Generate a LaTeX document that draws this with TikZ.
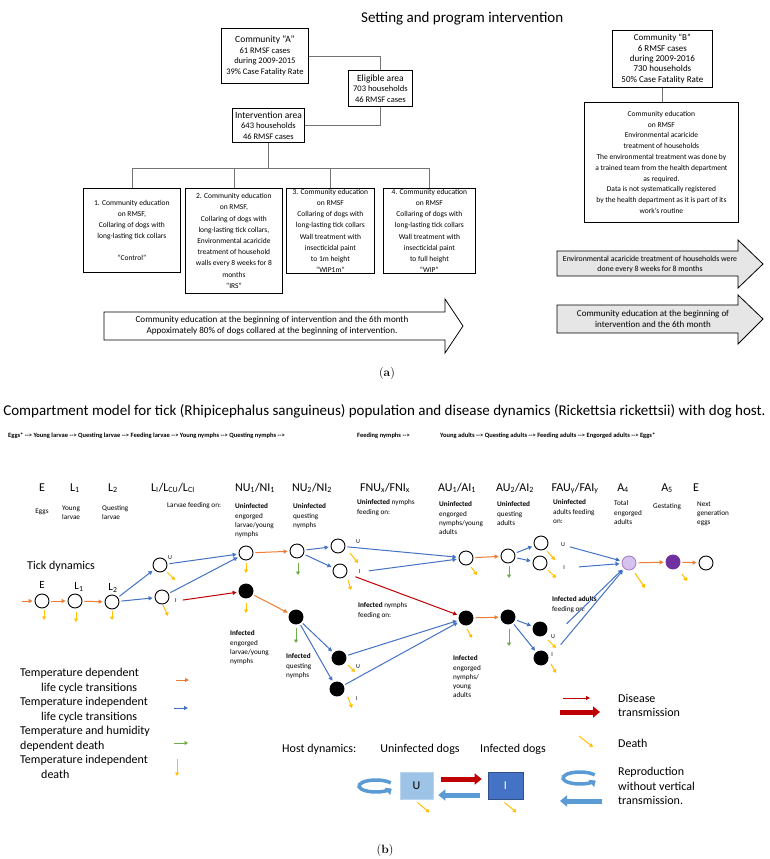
\documentclass[tikz,border=0pt]{standalone}
\usepackage{fontspec}
\newfontfamily\calib{Carlito}
\usetikzlibrary{arrows.meta}
\usetikzlibrary{positioning}

\definecolor{tdep}{HTML}{ED7D31}
\definecolor{tind}{HTML}{4472C4}
\definecolor{hdep}{HTML}{70AD47}
\definecolor{mort}{HTML}{FFC000}
\definecolor{dis}{HTML}{C00000}
\definecolor{gest}{HTML}{7030A0}
\definecolor{engorg}{HTML}{D5C2EE}
\definecolor{hostu}{HTML}{9DC3E6}
\definecolor{hosti}{HTML}{4472C4}
\definecolor{repro}{HTML}{5B9BD5}
\definecolor{shade}{HTML}{E7E6E6}

\tikzset{
  abox/.style={draw,line width=.8pt,align=center,inner sep=0pt,anchor=north west,font=\calib\fontsize{7.5}{11.2}\selectfont},
  link/.style={draw=black!55,line width=.7pt},
  tick/.style={circle,draw,line width=.9pt,minimum size=14pt,inner sep=0pt},
  inf/.style={tick,fill=black},
  lbl/.style={inner sep=0pt,font=\calib\fontsize{12}{14.5}\selectfont},
  note/.style={inner sep=0pt,align=left,anchor=north west,font=\calib\fontsize{7.2}{9.3}\selectfont},
  ui/.style={inner sep=0pt,font=\calib\fontsize{6}{7}\selectfont},
  flow/.style={line width=1pt,shorten <=2pt,shorten >=2pt,-{Triangle[length=4pt,width=4pt]}},
  tdflow/.style={flow,tdep},
  tiflow/.style={flow,tind},
  dflow/.style={flow,dis},
  death/.style={line width=1pt,mort,-{Triangle[length=3.5pt,width=4pt]}},
  hdeath/.style={line width=1pt,hdep,-{Triangle[length=3.5pt,width=4pt]}},
  fat/.style={line width=5pt,-{Triangle[length=7pt,width=11pt]}},
}
\newcommand{\tdeath}[3]{\draw[death] (#1) ++(#2) -- ++(#3);}
\newcommand{\hdth}[3]{\draw[hdeath] (#1) ++(#2) -- ++(#3);}
\newcommand{\loopback}[1]{\draw[repro,line width=3.5pt,-{Triangle[length=5pt,width=9pt]}] (#1) ++(330:17 and 6) arc[start angle=330,end angle=25,x radius=17,y radius=6];}
\newcommand{\nxt}{{-}{-}>}

\begin{document}
\begin{tikzpicture}[x=1pt,y=-1pt,font=\calib]
  \fill[white] (0,0) rectangle (769,859);
  \useasboundingbox (0,0) rectangle (769,859);

  % (a) setting and program intervention
  \node[anchor=west,inner sep=0pt,font=\calib\fontsize{15}{17}\selectfont] (ttlA) at (361,19) {Setting and program intervention};

  \node[abox,minimum width=87pt,minimum height=55pt,font=\calib\fontsize{8.5}{10.5}\selectfont] (comA) at (221,28) {{\fontsize{9.5}{11}\selectfont Community “A”}\\61 RMSF cases\\during 2009-2015\\39\% Case Fatality Rate};
  \node[abox,minimum width=64pt,minimum height=36pt,font=\calib\fontsize{8.5}{10.5}\selectfont] (elig) at (348,70) {{\fontsize{9.5}{11}\selectfont Eligible area}\\703 households\\46 RMSF cases};
  \node[abox,minimum width=72pt,minimum height=34pt,font=\calib\fontsize{8.5}{10.5}\selectfont] (interv) at (232,108) {{\fontsize{9.5}{11}\selectfont Intervention area}\\643 households\\46 RMSF cases};

  \node[abox,minimum width=97pt,minimum height=84pt] (box1) at (83,188) {1. Community education\\on RMSF,\\Collaring of dogs with\\long-lasting tick collars\\[11pt]“Control”};
  \node[abox,minimum width=97pt,minimum height=105pt] (box2) at (185,188) {2. Community education\\on RMSF,\\Collaring of dogs with\\long-lasting tick collars,\\Environmental acaricide\\treatment of household\\walls every 8 weeks for 8\\months\\“IRS”};
  \node[abox,minimum width=88pt,minimum height=85pt] (box3) at (286,188) {3. Community education\\on RMSF\\Collaring of dogs with\\long-lasting tick collars\\Wall treatment with\\insecticidal paint\\to 1m height\\“WIP1m”};
  \node[abox,minimum width=92pt,minimum height=85pt] (box4) at (383,188) {4. Community education\\on RMSF\\Collaring of dogs with\\long-lasting tick collars\\Wall treatment with\\insecticidal paint\\to full height\\“WIP”};

  \draw[link] (comA.east) -| (elig.north);
  \draw[link] (elig.south) |- (interv.east);
  \coordinate (split) at (270,168);
  \draw[link] (interv.south) -- (interv.south |- split);
  \draw[link] (box1.north) |- (box4.north |- split) -- (box4.north);
  \draw[link] (box2.north) -- (box2.north |- split);
  \draw[link] (box3.north) -- (box3.north |- split);

  \draw[line width=.8pt] (104,312) -- (445,312) -- (445,299) -- (463,326) -- (445,353) -- (445,340) -- (104,340) -- cycle;
  \node[align=center,inner sep=0pt,font=\calib\fontsize{9.1}{11}\selectfont] (arrA) at (272,326) {Community education at the beginning of intervention and the 6th month\\Appoximately 80\% of dogs collared at the beginning of intervention.};

  \node[abox,minimum width=100pt,minimum height=57pt,font=\calib\fontsize{9}{10.4}\selectfont] (comB) at (612,30) {Community “B”\\6 RMSF cases\\during 2009-2016\\730 households\\50\% Case Fatality Rate};
  \node[abox,minimum width=154pt,minimum height=120pt,font=\calib\fontsize{7.5}{10.8}\selectfont] (eduB) at (584,102) {Community education\\on RMSF\\Environmental acaricide\\treatment of households\\The environmental treatment was done by\\a trained team from the health department\\as required.\\Data is not systematically registered\\by the health department as it is part of its\\work’s routine};
  \draw[link] (comB.south) -- (comB.south |- eduB.north);

  \draw[line width=.8pt,fill=shade] (557,251) -- (738,251) -- (738,240) -- (763,264) -- (738,288) -- (738,276) -- (557,276) -- cycle;
  \node[align=center,inner sep=0pt,font=\calib\fontsize{7.8}{10}\selectfont] (arrB1) at (650,264) {Environmental acaricide treatment of households were\\done every 8 weeks for 8 months};
  \draw[line width=.8pt,fill=shade] (557,305) -- (738,305) -- (738,295) -- (763,319) -- (738,344) -- (738,333) -- (557,333) -- cycle;
  \node[align=center,inner sep=0pt,font=\calib\fontsize{9}{11}\selectfont] (arrB2) at (653,319) {Community education at the beginning of\\intervention and the 6th month};

  \node[font=\rmfamily\fontsize{12}{14}\selectfont] (capA) at (387,374) {(\textbf{a})};

  % (b) compartment model
  \node[inner sep=0pt,font=\calib\fontsize{15}{17}\selectfont] (ttlB) at (384.5,411) {Compartment model for tick (Rhipicephalus sanguineus) population and disease dynamics (Rickettsia rickettsii) with dog host.};
  \node[anchor=west,inner sep=0pt,font=\calib\bfseries\fontsize{6.5}{8}\selectfont] (seq1) at (8,436) {Eggs* \nxt{} Young larvae \nxt{} Questing larvae \nxt{} Feeding larvae \nxt{} Young nymphs \nxt{} Questing nymphs \nxt};
  \node[anchor=west,inner sep=0pt,font=\calib\bfseries\fontsize{6.5}{8}\selectfont] (seq2) at (357,436) {Feeding nymphs \nxt};
  \node[anchor=west,inner sep=0pt,font=\calib\bfseries\fontsize{6.5}{8}\selectfont] (seq3) at (440,436) {Young adults \nxt{} Questing adults \nxt{} Feeding adults \nxt{} Engorged adults \nxt{} Eggs*};

  \node[lbl,anchor=base] (hE) at (42,491) {E};
  \node[lbl,anchor=base] (hL1) at (75,491) {L\textsubscript{1}};
  \node[lbl,anchor=base] (hL2) at (113,491) {L\textsubscript{2}};
  \node[lbl,anchor=base] (hLf) at (173,491) {L\textsubscript{I}/L\textsubscript{CU}/L\textsubscript{CI}};
  \node[lbl,anchor=base] (hNU1) at (255,491) {NU\textsubscript{1}/NI\textsubscript{1}};
  \node[lbl,anchor=base] (hNU2) at (312,491) {NU\textsubscript{2}/NI\textsubscript{2}};
  \node[lbl,anchor=base] (hFNU) at (385,491) {FNU\textsubscript{x}/FNI\textsubscript{x}};
  \node[lbl,anchor=base] (hAU1) at (457,491) {AU\textsubscript{1}/AI\textsubscript{1}};
  \node[lbl,anchor=base] (hAU2) at (515,491) {AU\textsubscript{2}/AI\textsubscript{2}};
  \node[lbl,anchor=base] (hFAU) at (575,491) {FAU\textsubscript{y}/FAI\textsubscript{y}};
  \node[lbl,anchor=base] (hA4) at (623,491) {A\textsubscript{4}};
  \node[lbl,anchor=base] (hA5) at (667,491) {A\textsubscript{5}};
  \node[lbl,anchor=base] (hE2) at (696,491) {E};

  \node[note,anchor=center] (dE) at (42,512) {Eggs};
  \node[note] (dL1) at (62,505.5) {Young\\larvae};
  \node[note] (dL2) at (102,505.5) {Questing\\larvae};
  \node[note,anchor=west] (dLf) at (167,506) {Larvae feeding on:};
  \node[note] (dNU1) at (235,503.5) {\textbf{Uninfected}\\engorged\\larvae/young\\nymphs};
  \node[note] (dNU2) at (293,503.5) {\textbf{Uninfected}\\questing\\nymphs};
  \node[note] (dFNU) at (357,499.5) {\textbf{Uninfected} nymphs\\feeding on:};
  \node[note] (dAU1) at (439,501.5) {\textbf{Uninfected}\\engorged\\nymphs/young\\adults};
  \node[note] (dAU2) at (497,501.5) {\textbf{Uninfected}\\questing\\adults};
  \node[note] (dFAU) at (553,499.5) {\textbf{Uninfected}\\adults feeding\\on:};
  \node[note] (dA4) at (614,500.5) {Total\\engorged\\adults};
  \node[note,anchor=west] (dA5) at (653,507) {Gestating};
  \node[note] (dE2) at (697,501.5) {Next\\generation\\eggs};

  \node[lbl,anchor=west] (tdyn) at (27,566) {Tick dynamics};
  \node[inner sep=0pt,font=\calib\fontsize{11}{12}\selectfont] (rE) at (42,585) {E};
  \node[inner sep=0pt,font=\calib\fontsize{11}{12}\selectfont] (rL1) at (79,587) {L\textsubscript{1}};
  \node[inner sep=0pt,font=\calib\fontsize{11}{12}\selectfont] (rL2) at (113,588) {L\textsubscript{2}};

  % compartments
  \node[tick] (E0) at (42,601) {};
  \node[tick] (L1) at (75,601) {};
  \node[tick] (L2) at (112,602) {};
  \node[tick] (LCU) at (160,565) {};
  \node[tick] (LCI) at (162,597) {};
  \node[tick] (NU1) at (246,553) {};
  \node[inf] (NI1) at (246,591) {};
  \node[tick] (NU2) at (297,551) {};
  \node[inf] (NI2) at (296,617) {};
  \node[tick] (FNUu) at (338,546) {};
  \node[tick] (FNUi) at (340,571) {};
  \node[inf] (FNIu) at (339,658) {};
  \node[inf] (FNIi) at (337,689) {};
  \node[tick] (AU1) at (466,558) {};
  \node[inf] (AI1) at (466,618) {};
  \node[tick] (AU2) at (508,556) {};
  \node[inf] (AI2) at (508,617) {};
  \node[tick] (FAUu) at (541,543) {};
  \node[tick] (FAUi) at (540,563) {};
  \node[inf] (FAIu) at (540,629) {};
  \node[inf] (FAIi) at (541,658) {};
  \node[tick,fill=engorg,draw=gest!60] (A4) at (629,563) {};
  \node[tick,fill=gest,draw=gest] (A5) at (673,562) {};
  \node[tick] (E2) at (706,563) {};

  \node[ui] (uLCU) at (170,558) {U};
  \node[ui] (iLCI) at (176,601) {I};
  \node[ui] (uFNU) at (358,542) {U};
  \node[ui] (iFNU) at (360,572) {I};
  \node[ui] (uFNI) at (358,667) {U};
  \node[ui] (iFNI) at (357,699) {I};
  \node[ui] (uFAU) at (563,545) {U};
  \node[ui] (iFAU) at (564,568) {I};
  \node[ui] (uFAI) at (553,637) {U};
  \node[ui] (iFAI) at (552,655) {I};

  \node[note] (dNI1) at (230,630.5) {\textbf{Infected}\\engorged\\larvae/young\\nymphs};
  \node[note] (dNI2) at (286,653.5) {\textbf{Infected}\\questing\\nymphs};
  \node[note] (dFNI) at (358,602.5) {\textbf{Infected} nymphs\\feeding on:};
  \node[note] (dAI1) at (453,655.5) {\textbf{Infected}\\engorged\\nymphs/\\young\\adults};
  \node[note] (dFAI) at (552,596.5) {\textbf{Infected adults}\\feeding on:};

  % transitions
  \coordinate (src) at (20,601);
  \draw[tdflow] (src) -- (E0);
  \draw[tdflow] (E0) -- (L1);
  \draw[tdflow] (L1) -- (L2);
  \draw[tdflow] (NU1) -- (NU2);
  \draw[tdflow] (NI1) -- (NI2);
  \draw[tdflow] (AU1) -- (AU2);
  \draw[tdflow] (AI1) -- (AI2);
  \draw[tdflow] (A4) -- (A5);
  \draw[tdflow] (A5) -- (E2);

  \draw[tiflow] (L2) -- (LCU);
  \draw[tiflow] (L2) -- (LCI);
  \draw[tiflow] (LCU) -- (NU1);
  \draw[tiflow] (LCI) -- (NU1);
  \draw[tiflow] (NU2) -- (FNUu);
  \draw[tiflow] (NU2) -- (FNUi);
  \draw[tiflow] (FNUu) -- (AU1);
  \draw[tiflow,shorten <=8pt] (iFNU) -- (AU1);
  \draw[tiflow] (NI2) -- (FNIu);
  \draw[tiflow] (NI2) -- (FNIi);
  \draw[tiflow] (FNIu) -- (AI1);
  \draw[tiflow] (FNIi) -- (AI1);
  \draw[tiflow] (AU2) -- (FAUu);
  \draw[tiflow] (AU2) -- (FAUi);
  \draw[tiflow] (AI2) -- (FAIu);
  \draw[tiflow] (AI2) -- (FAIi);
  \draw[tiflow,shorten <=5pt] (uFAU) -- (A4);
  \draw[tiflow,shorten <=14pt] (iFAU) -- (A4);
  \draw[tiflow,shorten <=16pt] (uFAI) -- (A4);
  \draw[tiflow,shorten <=12pt] (iFAI) -- (A4);

  \draw[dflow,shorten <=6pt] (iLCI) -- (NI1);
  \draw[dflow,shorten <=9pt] (FNUi) -- (AI1);

  \tdeath{E0}{2,9}{0,10}
  \tdeath{L1}{1,11}{0,10}
  \tdeath{L2}{0,9}{0,9}
  \tdeath{LCU}{7,7}{8,8}
  \tdeath{LCI}{1,8}{5,11}
  \tdeath{NU1}{0,10}{0,10}
  \tdeath{NI1}{0,12}{0,10}
  \tdeath{FNUu}{12,7}{8,10}
  \tdeath{FNUi}{8,9}{3,10}
  \tdeath{FNIu}{9,7}{7,7}
  \tdeath{FNIi}{11,8}{4,11}
  \tdeath{AU1}{5,9}{6,8}
  \tdeath{AI1}{1,11}{5,9}
  \tdeath{FAUu}{6,8}{8,9}
  \tdeath{FAUi}{8,7}{8,8}
  \tdeath{FAIu}{8,11}{8,8}
  \tdeath{FAIi}{10,6}{5,9}
  \tdeath{A4}{6,10}{10,15}
  \tdeath{A5}{9,12}{5,7}
  \hdth{NU2}{1,12}{0,12}
  \hdth{NI2}{0,11}{0,15}
  \hdth{AU2}{1,10}{0,12}
  \hdth{AI2}{1,12}{0,17}

  % legend
  \node[lbl,align=left,anchor=north west] (leg) at (20,668) {Temperature dependent\\\hspace*{21pt}life cycle transitions\\Temperature independent\\\hspace*{21pt}life cycle transitions\\Temperature and humidity\\dependent death\\Temperature independent\\\hspace*{21pt}death};
  \draw[tdflow,shorten <=0pt,shorten >=0pt] (176,680) -- (189,680);
  \draw[tiflow,shorten <=0pt,shorten >=0pt] (174,708) -- (188,708);
  \draw[hdeath] (174,743) -- (188,743);
  \draw[death] (177,759) -- (177,776);

  % host dynamics
  \node[lbl,anchor=west] (hdyn) at (282,749) {Host dynamics:};
  \node[lbl] (hun) at (420,749) {Uninfected dogs};
  \node[lbl] (hin) at (513,749) {Infected dogs};
  \node[lbl,fill=hostu,draw=hostu!70!white,line width=.6pt,minimum width=33pt,minimum height=27pt] (hu) at (416.5,785.5) {U};
  \node[lbl,fill=hosti,draw=hosti!70!black,line width=.6pt,minimum width=35pt,minimum height=27pt,text=white] (hi) at (505.5,785.5) {I};
  \draw[fat,dis,shorten <=8pt,shorten >=6pt] ([yshift=6.5pt]hu.east) -- ([yshift=6.5pt]hi.west);
  \draw[fat,repro,shorten <=8pt,shorten >=5pt] ([yshift=-9.5pt]hi.west) -- ([yshift=-9.5pt]hu.east);
  \loopback{376,786}
  \tdeath{hu}{1,17}{12,10}
  \tdeath{hi}{-1,17}{12,10}

  \draw[dis,line width=1pt,-{Triangle[length=4pt,width=4pt]}] (563,698) -- (590,698);
  \draw[fat,dis] (560,712) -- (600,712);
  \draw[death] (579,736) -- (593,747);
  \loopback{580,778}
  \draw[fat,repro] (602,801) -- (560,801);
  \node[lbl,align=left,anchor=north west] (ldis) at (618,694) {Disease\\transmission};
  \node[lbl,anchor=west] (ldeath) at (618,743) {Death};
  \node[lbl,align=left,anchor=north west] (lrep) at (618,767) {Reproduction\\without vertical\\transmission.};

  \node[font=\rmfamily\fontsize{12}{14}\selectfont] (capB) at (385,850) {(\textbf{b})};
\end{tikzpicture}
\end{document}
